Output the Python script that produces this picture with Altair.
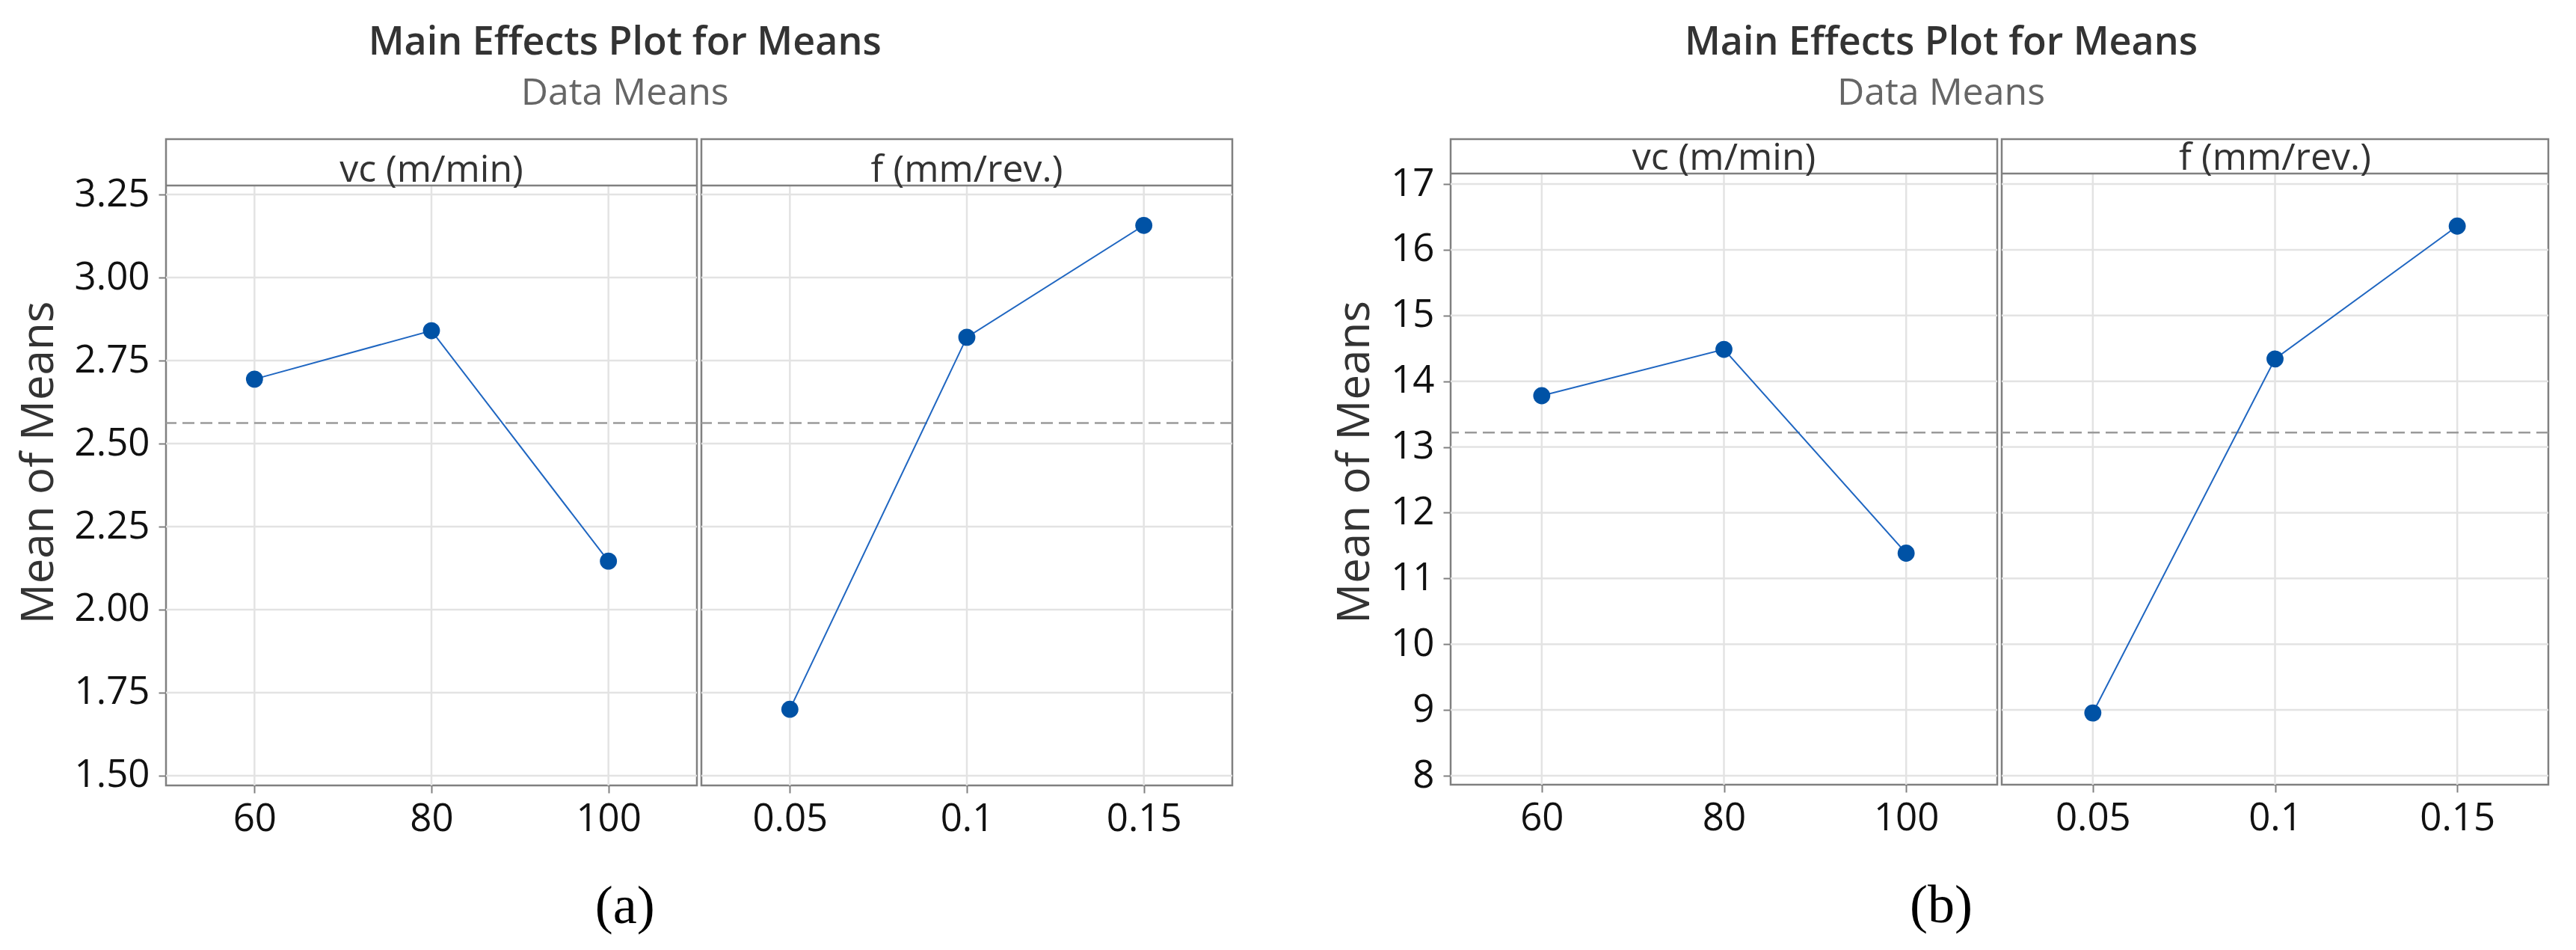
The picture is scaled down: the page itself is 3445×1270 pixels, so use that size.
import altair as alt
import pandas as pd

# ---------------- data ----------------
vc_levels = ["60", "80", "100"]
f_levels = ["0.05", "0.1", "0.15"]

a_vc_means = [2.694, 2.840, 2.146]
a_f_means = [1.700, 2.820, 3.157]
a_grand_mean = 2.562
a_yticks = [1.50, 1.75, 2.00, 2.25, 2.50, 2.75, 3.00, 3.25]

b_vc_means = [13.78, 14.485, 11.385]
b_f_means = [8.955, 14.34, 16.36]
b_grand_mean = 13.22
b_yticks = [8, 9, 10, 11, 12, 13, 14, 15, 16, 17]

factor_labels = ["vc (m/min)", "f (mm/rev.)"]
main_title = "Main Effects Plot for Means"
sub_title = "Data Means"
y_title = "Mean of Means"

FONT = "Open Sans"
BORDER = "#808080"
GRID = "#e3e3e3"
POINT = "#0052a5"
LINE = "#1f66c1"


def panel(levels, values, mean, ydom, strip_bottom, yticks, label,
          width, height, show_y, fmt):
    ysc = alt.Scale(domain=ydom, nice=False, zero=False)
    xsc = alt.Scale(type="point", padding=0.5)
    xaxis = alt.Axis(title=None, labelAngle=0, labelFont=FONT, labelFontSize=51,
                     labelColor="#111", tickSize=10, tickWidth=2, tickColor=BORDER,
                     labelPadding=10, grid=False, domain=False)
    if show_y:
        yaxis = alt.Axis(values=yticks, format=fmt, title=y_title, titleFont=FONT,
                         titleFontSize=60, titleFontWeight="normal", titleColor="#333",
                         titlePadding=16, labelFont=FONT, labelFontSize=51,
                         labelColor="#111", tickSize=10, tickWidth=2, tickColor=BORDER,
                         labelPadding=12, grid=False, domain=False)
    else:
        yaxis = None

    def X(field):
        return alt.X(field, sort=levels, scale=xsc, axis=xaxis)

    def Y(field):
        return alt.Y(field, scale=ysc, axis=yaxis)

    df = pd.DataFrame({"level": levels, "value": values})
    grid_df = pd.DataFrame({"value": yticks})
    vgrid_df = pd.DataFrame({"level": levels, "value": [ydom[0]] * len(levels),
                             "hi": [strip_bottom] * len(levels)})
    mean_df = pd.DataFrame({"value": [mean]})
    strip_df = pd.DataFrame({"level": [levels[1]], "label": [label], "value": [strip_bottom]})

    hgrid = alt.Chart(grid_df).mark_rule(color=GRID, strokeWidth=2.5).encode(
        y=Y("value:Q"))
    vgrid = alt.Chart(vgrid_df).mark_rule(color=GRID, strokeWidth=2.5).encode(
        x=X("level:O"), y=Y("value:Q"), y2="hi:Q")
    strip_line = alt.Chart(strip_df).mark_rule(color=BORDER, strokeWidth=2.5).encode(
        y=Y("value:Q"))
    mean_line = alt.Chart(mean_df).mark_rule(
        color="#9a9a9a", strokeWidth=2.5, strokeDash=[16, 8]).encode(
        y=Y("value:Q"))
    line = alt.Chart(df).mark_line(color=LINE, strokeWidth=2).encode(
        x=X("level:O"), y=Y("value:Q"))
    pts = alt.Chart(df).mark_point(filled=True, shape="circle", size=520,
                                   color=POINT, opacity=1).encode(
        x=X("level:O"), y=Y("value:Q"))
    text = alt.Chart(strip_df).mark_text(font=FONT, fontSize=50, color="#333",
                                         baseline="alphabetic", dy=-5).encode(
        x=X("level:O"), y=Y("value:Q"), text="label:N")

    return alt.layer(hgrid, vgrid, strip_line, mean_line, line, pts, text).properties(
        width=width, height=height)


def subplot(vc_vals, f_vals, mean, ydom, strip_bottom, yticks, width, height, fmt, tag):
    left = panel(vc_levels, vc_vals, mean, ydom, strip_bottom, yticks,
                 factor_labels[0], width, height, True, fmt)
    right = panel(f_levels, f_vals, mean, ydom, strip_bottom, yticks,
                  factor_labels[1], width, height, False, fmt)
    inner = alt.hconcat(left, right, spacing=0).properties(
        title=alt.TitleParams(text=main_title, subtitle=sub_title, anchor="middle",
                              font=FONT, fontSize=52, fontWeight=600, color="#333",
                              subtitleFont=FONT, subtitleFontSize=50,
                              subtitleColor="#666", subtitlePadding=16, offset=34))
    return alt.vconcat(inner).properties(
        title=alt.TitleParams(text=tag, orient="bottom", anchor="middle",
                              font="Liberation Serif", fontSize=72, fontWeight="normal",
                              color="#000", offset=56))


chart_a = subplot(a_vc_means, a_f_means, a_grand_mean, [1.4707, 3.4167], 3.277,
                  a_yticks, 710, 864, ".2f", "(a)")
chart_b = subplot(b_vc_means, b_f_means, b_grand_mean, [7.8635, 17.683], 17.159,
                  b_yticks, 731, 863, "d", "(b)")

chart = alt.hconcat(chart_a, chart_b, spacing=130).properties(
    padding={"left": 12, "top": 22, "right": 5, "bottom": 5}
).configure(background="white").configure_view(stroke=BORDER, strokeWidth=2.5)

chart.save("out.html", embed_options={"renderer": "svg", "actions": False})
